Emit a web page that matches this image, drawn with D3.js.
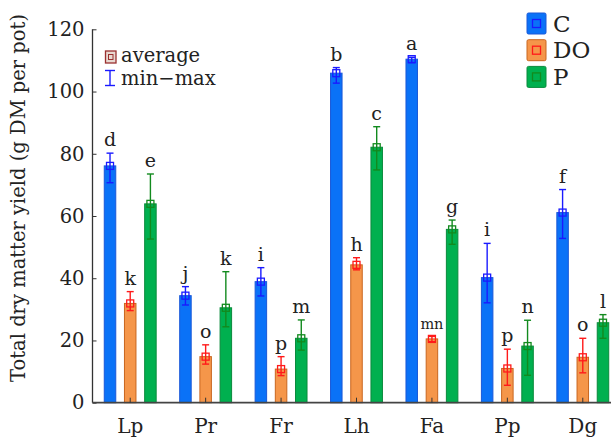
<!DOCTYPE html>
<html><head><meta charset="utf-8">
<script src="https://cdn.jsdelivr.net/npm/d3@7"></script>
<style>body{margin:0;background:#fff}svg{display:block}</style>
</head><body><svg id="c" width="611" height="437"></svg>
<script>
const categories = ["Lp","Pr","Fr","Lh","Fa","Pp","Dg"];
const seriesNames = ["C","DO","P"];
const avgC  = [76.1, 34.4, 38.9, 105.9, 110.4, 40.2, 61.1];
const minC  = [70.7, 31.4, 34.3, 102.7, 109.3, 32.1, 52.8];
const maxC  = [80.2, 37.3, 43.4, 107.7, 111.0, 51.2, 68.5];
const lblC  = ["d","j","i","b","a","i","f"];
const avgDO = [31.9, 14.8, 10.8, 44.3, 20.5, 11.0, 14.6];
const minDO = [29.6, 12.4, 8.7, 42.7, 19.6, 5.6, 9.6];
const maxDO = [35.7, 18.6, 14.8, 46.6, 21.3, 17.2, 20.7];
const lblDO = ["k","o","p","h","mn","p","o"];
const avgP  = [63.9, 30.5, 20.7, 82.1, 55.7, 18.2, 25.7];
const minP  = [52.6, 24.4, 16.9, 74.8, 50.9, 8.8, 20.7];
const maxP  = [73.5, 42.1, 26.6, 88.7, 58.7, 26.5, 28.3];
const lblP  = ["e","k","m","c","g","n","l"];
const yTicks = [0,20,40,60,80,100,120];
const yTitle = "Total dry matter yield (g DM per pot)";

const styles = {
  C:  {fill:"#0a72f7", stroke:"#1a58d8", err:"#1a1aff"},
  DO: {fill:"#f5964a", stroke:"#c9661f", err:"#ff1a1a"},
  P:  {fill:"#00b04f", stroke:"#0a8a3c", err:"#128a1e"}
};
const series = [
  {name:"C", avg:avgC, min:minC, max:maxC, lbl:lblC},
  {name:"DO", avg:avgDO, min:minDO, max:maxDO, lbl:lblDO},
  {name:"P", avg:avgP, min:minP, max:maxP, lbl:lblP}
];

const svg = d3.select("#c");
const font = "DejaVu Serif";
const y = d3.scaleLinear().domain([0,120]).range([402.7, 29.3]);
const x = d3.scaleBand().domain(categories).range([92.5, 620.5]);
const xs = d3.scalePoint().domain(seriesNames).range([-20.2, 20.2]);
const bw = 11.5;

const g = svg.append("g");
series.forEach(s => {
  const st = styles[s.name];
  const gs = g.append("g");
  categories.forEach((c,i) => {
    const cx = x(c) + x.bandwidth()/2 + xs(s.name);
    gs.append("rect").attr("x", cx-bw/2).attr("y", y(s.avg[i])).attr("width", bw)
      .attr("height", y(0)-y(s.avg[i])).attr("fill", st.fill).attr("stroke", st.stroke).attr("stroke-width",1);
    gs.append("line").attr("x1",cx).attr("x2",cx).attr("y1",y(s.min[i])).attr("y2",y(s.max[i]))
      .attr("stroke",st.err).attr("stroke-width",1.4);
    [s.min[i], s.max[i]].forEach(v => gs.append("line").attr("x1",cx-3.5).attr("x2",cx+3.5)
      .attr("y1",y(v)).attr("y2",y(v)).attr("stroke",st.err).attr("stroke-width",1.4));
    gs.append("rect").attr("x",cx-3.5).attr("y",y(s.avg[i])-3.5).attr("width",7).attr("height",7)
      .attr("fill","none").attr("stroke",st.err).attr("stroke-width",1.3);
    const small = s.lbl[i].length > 1;
    gs.append("text").attr("x",cx).attr("y",y(s.max[i])-7).attr("text-anchor","middle")
      .attr("font-family",font).attr("font-size", small?14.5:19).attr("fill","#222").text(s.lbl[i]);
  });
});

const yAxis = d3.axisLeft(y).tickValues(yTicks).tickSize(-4).tickPadding(8);
const ya = svg.append("g").attr("transform","translate(92.5,0)").call(yAxis);
ya.select(".domain").attr("d", "M0,29.3V402.7").attr("stroke","#333").attr("stroke-width",1.3);
ya.selectAll(".tick line").attr("stroke","#333");
ya.selectAll("text").attr("font-family",font).attr("font-size",19.5).attr("fill","#222");

const xAxis = d3.axisBottom(x).tickSize(-5).tickPadding(16);
const xa = svg.append("g").attr("transform","translate(0,402.7)").call(xAxis);
xa.select(".domain").attr("d","M92.5,0H620.5").attr("stroke","#444").attr("stroke-width",1.8);
xa.selectAll(".tick line").attr("stroke","#333");
xa.selectAll("text").attr("font-family",font).attr("font-size",20).attr("fill","#222");

svg.append("text").attr("transform","translate(25,198) rotate(-90)").attr("text-anchor","middle")
  .attr("font-family",font).attr("font-size",19.5).attr("fill","#222").text(yTitle);

const lg = svg.append("g").attr("transform","translate(527,13)");
seriesNames.forEach((n,i) => {
  const st = styles[n];
  const gy = i*26.7;
  lg.append("rect").attr("x",0).attr("y",gy).attr("width",19).attr("height",21).attr("rx",1.5)
    .attr("fill",st.fill).attr("stroke",st.stroke).attr("stroke-width",1);
  lg.append("rect").attr("x",5.5).attr("y",gy+6.5).attr("width",8).attr("height",8)
    .attr("fill","none").attr("stroke",st.err).attr("stroke-width",1.3);
  lg.append("text").attr("x",26).attr("y",gy+18.5).attr("font-family",font).attr("font-size",23)
    .attr("fill","#222").text(n);
});

const ll = svg.append("g");
ll.append("rect").attr("x",105.5).attr("y",51).attr("width",10.5).attr("height",12)
  .attr("fill","#e8d8d0").attr("stroke","#9a3030").attr("stroke-width",1.3);
ll.append("rect").attr("x",108.5).attr("y",54.5).attr("width",4.5).attr("height",5)
  .attr("fill","none").attr("stroke","#9a3030").attr("stroke-width",1);
ll.append("text").attr("x",121).attr("y",62).attr("font-family",font).attr("font-size",19.5)
  .attr("fill","#222").text("average");
ll.append("line").attr("x1",110).attr("x2",110).attr("y1",70.5).attr("y2",85.5).attr("stroke","#1a1aff").attr("stroke-width",1.4);
ll.append("line").attr("x1",105).attr("x2",115).attr("y1",70.5).attr("y2",70.5).attr("stroke","#1a1aff").attr("stroke-width",1.4);
ll.append("line").attr("x1",105).attr("x2",115).attr("y1",85.5).attr("y2",85.5).attr("stroke","#1a1aff").attr("stroke-width",1.4);
ll.append("text").attr("x",121).attr("y",85).attr("font-family",font).attr("font-size",19.5)
  .attr("fill","#222").text("min−max");
</script></body></html>
